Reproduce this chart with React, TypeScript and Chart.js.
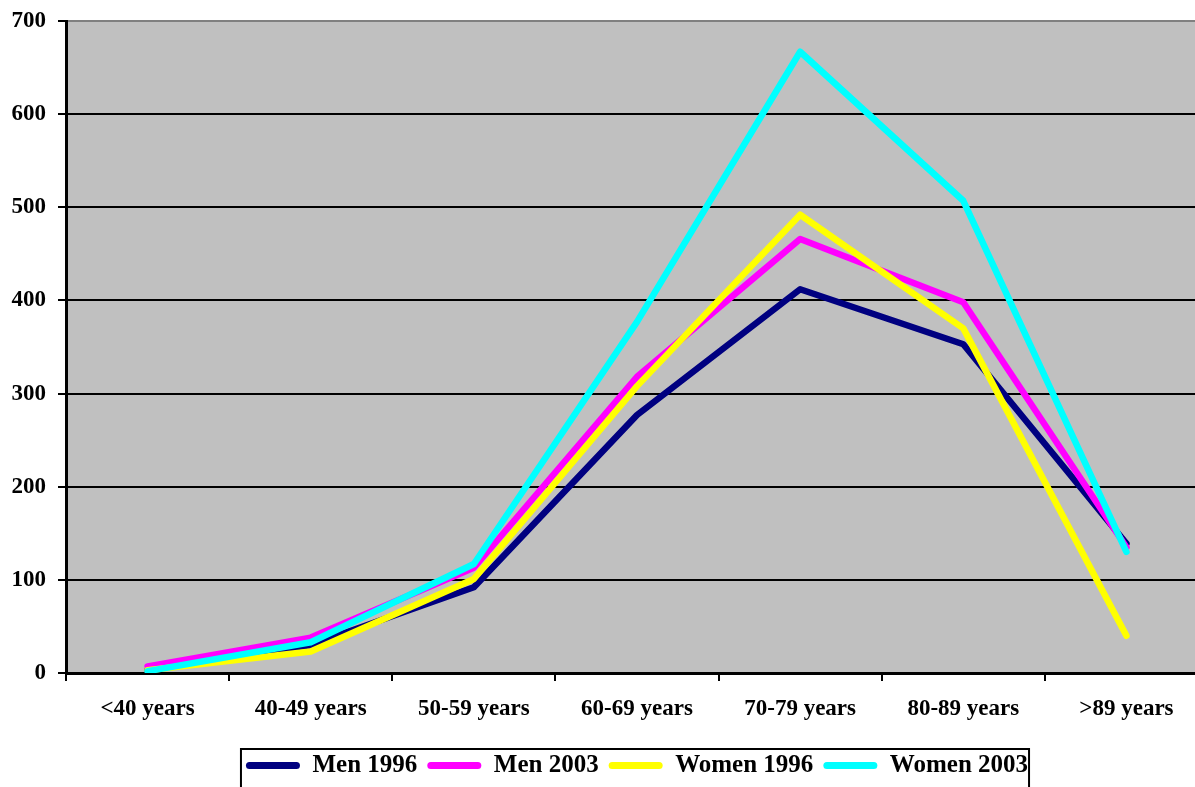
import React, { useEffect, useRef } from 'react';
import { Chart, registerables } from 'chart.js';

Chart.register(...registerables);

const ageGroups = ['<40 years', '40-49 years', '50-59 years', '60-69 years', '70-79 years', '80-89 years', '>89 years'];
const men1996 = [3, 30, 92, 277, 412, 353, 139];
const men2003 = [7, 38, 113, 318, 466, 398, 135];
const women1996 = [3, 23, 101, 308, 492, 370, 40];
const women2003 = [2, 33, 117, 377, 667, 507, 130];

const FONT = "'Liberation Serif', 'Times New Roman', serif";

// gray plot background
const plotBackground = {
  id: 'plotBackground',
  beforeDraw(chart: any) {
    const { ctx, chartArea } = chart;
    ctx.save();
    ctx.fillStyle = '#C0C0C0';
    ctx.fillRect(chartArea.left, chartArea.top, chartArea.right - chartArea.left, chartArea.bottom - chartArea.top);
    ctx.restore();
  },
};

// black frame round the legend
const legendFrame = {
  id: 'legendFrame',
  afterDraw(chart: any) {
    const boxes = chart.legend?.legendHitBoxes;
    if (!boxes || !boxes.length) return;
    const left = Math.min(...boxes.map((b: any) => b.left)) - 5;
    const right = Math.max(...boxes.map((b: any) => b.left + b.width)) + 1;
    const top = boxes[0].top - 4;
    const { ctx } = chart;
    ctx.save();
    ctx.strokeStyle = '#000';
    ctx.lineWidth = 2;
    ctx.strokeRect(left, top, right - left, chart.height);
    ctx.restore();
  },
};

const App: React.FC = () => {
  const canvasRef = useRef<HTMLCanvasElement>(null);

  useEffect(() => {
    if (!canvasRef.current) return;
    const line = (label: string, data: number[], color: string, order: number) => ({
      label,
      data,
      borderColor: color,
      backgroundColor: color,
      borderWidth: 6.5,
      pointRadius: 0,
      borderCapStyle: 'round' as const,
      borderJoinStyle: 'round' as const,
      tension: 0,
      order,
    });

    const chart = new Chart(canvasRef.current, {
      type: 'line',
      data: {
        labels: ageGroups,
        datasets: [
          line('Men 1996', men1996, '#000080', 4),
          line('Men 2003', men2003, '#FF00FF', 3),
          line('Women 1996', women1996, '#FFFF00', 2),
          line('Women 2003', women2003, '#00FFFF', 1),
        ],
      },
      options: {
        animation: false,
        responsive: true,
        maintainAspectRatio: false,
        layout: { padding: { top: 21, left: 0, right: 0, bottom: 0 } },
        scales: {
          x: {
            offset: true,
            grid: {
              offset: true,
              drawOnChartArea: false,
              drawTicks: true,
              tickLength: 8,
              color: '#000',
              lineWidth: 2,
            },
            border: { color: '#000', width: 3 },
            ticks: {
              color: '#000',
              padding: 14,
              font: { family: FONT, size: 23, weight: 'bold' },
              maxRotation: 0,
            },
            afterFit: (scale: any) => {
              scale.height = 70;
            },
          },
          y: {
            min: 0,
            max: 700,
            ticks: {
              stepSize: 100,
              color: '#000',
              padding: 12,
              font: { family: FONT, size: 23, weight: 'bold' },
            },
            grid: {
              color: (ctx: any) => (ctx.tick && ctx.tick.value === 700 ? '#808080' : '#000'),
              tickColor: '#000',
              lineWidth: 2,
              tickLength: 8,
            },
            border: { color: '#000', width: 3 },
            afterFit: (scale: any) => {
              scale.width = 66;
              scale.paddingTop = 0;
              scale.paddingBottom = 0;
            },
          },
        },
        plugins: {
          legend: {
            position: 'bottom',
            fullSize: false,
            labels: {
              color: '#000',
              font: { family: FONT, size: 25, weight: 'bold' },
              boxWidth: 54,
              boxHeight: 7,
              useBorderRadius: true,
              borderRadius: 3.5,
              padding: 10,
              sort: (a: any, b: any) => a.datasetIndex - b.datasetIndex,
              generateLabels: (c: any) =>
                c.data.datasets.map((ds: any, i: number) => ({
                  text: ds.label,
                  fillStyle: ds.borderColor,
                  strokeStyle: ds.borderColor,
                  lineWidth: 0,
                  hidden: false,
                  datasetIndex: i,
                  borderRadius: 3.5,
                  fontColor: '#000',
                })),
            },
          },
          tooltip: { enabled: false },
        },
      },
      plugins: [plotBackground, legendFrame],
    });

    return () => chart.destroy();
  }, []);

  return (
    <div style={{ position: 'fixed', left: 0, top: 0, width: 1195, height: 787, overflow: 'hidden', background: '#fff' }}>
      <div style={{ position: 'relative', width: 1208, height: 788 }}>
        <canvas ref={canvasRef}></canvas>
      </div>
    </div>
  );
};

export default App;
